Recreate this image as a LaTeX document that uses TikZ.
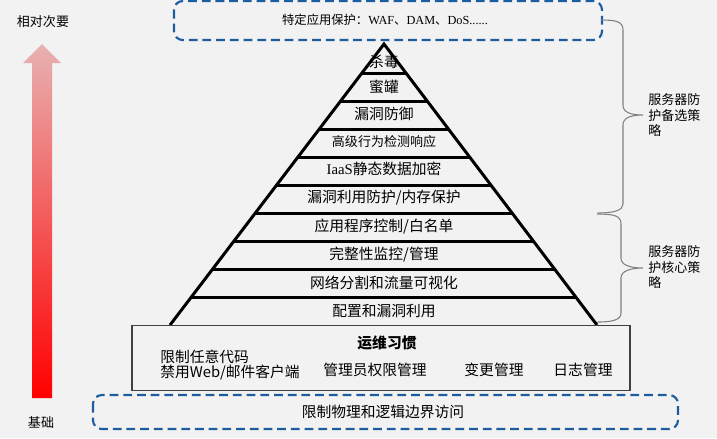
\documentclass[tikz,border=0pt]{standalone}
\usepackage{fontspec}
\setmainfont{Noto Sans CJK SC}
\newfontfamily\latinserif{Liberation Serif}
\usepackage{tikz}
\usetikzlibrary{positioning}
\definecolor{bgcol}{RGB}{242,242,242}
\definecolor{dashblue}{RGB}{30,92,160}
\definecolor{bracegray}{RGB}{128,128,128}
\definecolor{boxgray}{RGB}{64,64,64}
\definecolor{arrowtop}{RGB}{232,178,178}
\definecolor{arrowmid}{RGB}{244,86,86}

\begin{document}
\begin{tikzpicture}
[x=0.02cm, y=-0.02cm,
 layer/.style={line width=1.7pt, black},
 lbl/.style={inner sep=0pt, font=\fontsize{8.4}{10}\selectfont},
 note/.style={inner sep=0pt, font=\fontsize{7.4}{8.8}\selectfont},
 dashbox/.style={draw=dashblue, line width=1.2pt, dash pattern=on 5pt off 2.8pt, rounded corners=5pt},
 brace/.style={draw=bracegray, line width=0.6pt},
 every text node part/.style={align=left}]

% background and margins
\fill[bgcol] (0,0) rectangle (717,438);

% pyramid corners
\coordinate (P) at (384,44);
\coordinate (L) at (170,325);
\coordinate (R) at (597,325);

\draw [layer] (L) -- (P) -- (R);
\draw [layer] (362,73) -- (406,73);
\draw [layer] (340.7,101) -- (427.3,101);
\draw [layer] (319.4,129) -- (448.6,129);
\draw [layer] (298.1,157) -- (469.9,157);
\draw [layer] (276.8,185) -- (491.2,185);
\draw [layer] (255.6,213) -- (512.4,213);
\draw [layer] (234.3,241) -- (533.7,241);
\draw [layer] (213,269) -- (555,269);
\draw [layer] (191.7,297) -- (576.3,297);

% pyramid layers
\node[lbl] (av) at (384,62) {杀毒};
\node[lbl] (honey) at (384,87) {蜜罐};
\node[lbl] (vuln) at (384,114) {漏洞防御};
\node[lbl, font=\fontsize{7.4}{9}\selectfont] (edr) at (384,142) {高级行为检测响应};
\node[lbl] (iaas) at (384,169) {{\latinserif IaaS}静态数据加密};
\node[lbl] (mem) at (384,198) {漏洞利用防护/内存保护};
\node[lbl] (white) at (384,227) {应用程序控制/白名单};
\node[lbl] (integ) at (384,255) {完整性监控/管理};
\node[lbl] (net) at (384,283) {网络分割和流量可视化};
\node[lbl] (conf) at (384,311) {配置和漏洞利用};

% operations box
\draw [boxgray, line width=0.6pt] (132,325) rectangle (630,390);
\node[lbl] (habit) at (387,343) {\bfseries 运维习惯};
\node[lbl, anchor=west] (code) at (160,357) {限制任意代码};
\node[lbl, anchor=west] (client) at (160,373) {禁用Web/邮件客户端};
\node[lbl] (admin) at (375,370) {管理员权限管理};
\node[lbl] (change) at (494,370) {变更管理};
\node[lbl] (log) at (583,370) {日志管理};

% dashed boxes
\draw [dashbox] (174,1) rectangle (602,40);
\node[inner sep=0pt, font=\fontsize{7}{8}\selectfont] (spec) at (385,20)
  {特定应用保护：{\latinserif WAF}、{\latinserif DAM}、{\latinserif DoS......}};
\draw [dashbox] (93,395) rectangle (678,429);
\node[lbl] (bound) at (383,412) {限制物理和逻辑边界访问};

% braces
\draw [brace] (601,20) .. controls (615,20) and (623,21) .. (623,30) -- (623,105)
  .. controls (623,112) and (630,115) .. (643,115)
  .. controls (630,115) and (623,118) .. (623,125) -- (623,204)
  .. controls (623,210) and (615,213) .. (597,213);
\draw [brace] (597,214) .. controls (615,214) and (621,216) .. (621,224) -- (621,258)
  .. controls (621,265) and (630,268) .. (643,268)
  .. controls (630,268) and (621,271) .. (621,278) -- (621,313)
  .. controls (621,320) and (612,322) .. (597,322);
\node[note, anchor=west] (alt) at (648,115) {服务器防\\护备选策\\略};
\node[note, anchor=west] (core) at (648,267) {服务器防\\护核心策\\略};

% importance arrow
\shade [top color=arrowtop, middle color=arrowmid, bottom color=red]
  (32,398) -- (32,63) -- (23,63) -- (42,44) -- (61,63) -- (52,63) -- (52,398) -- cycle;
\node[note] (minor) at (43,22) {相对次要};
\node[note] (basis) at (41,422) {基础};

\end{tikzpicture}
\end{document}
